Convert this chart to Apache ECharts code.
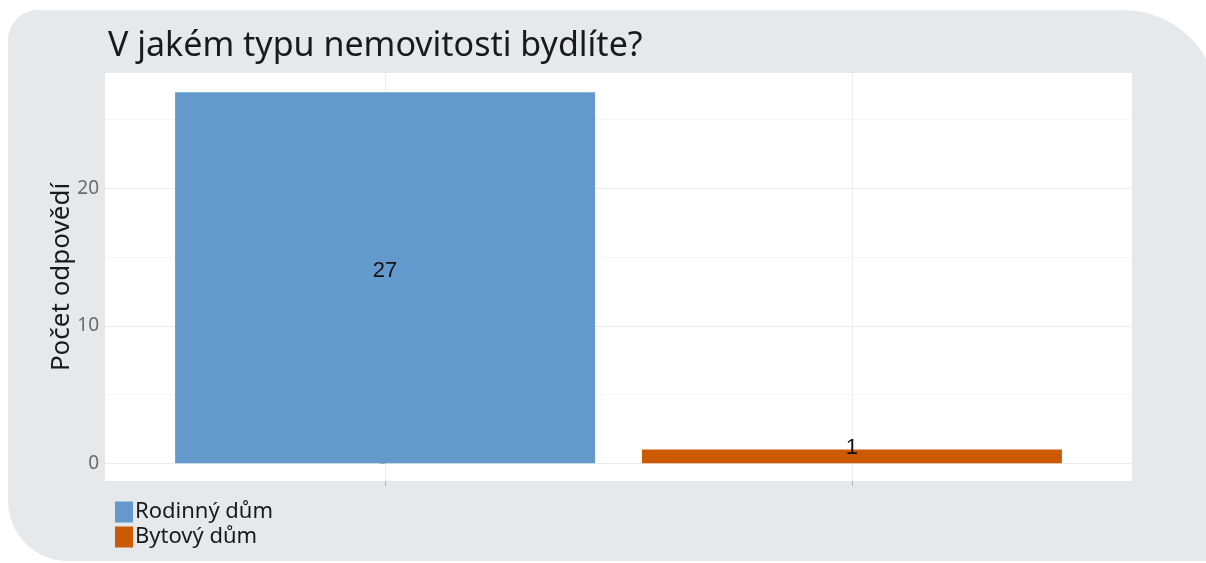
<!DOCTYPE html>
<html>
<head>
<meta charset="utf-8">
<script src="https://cdn.jsdelivr.net/npm/echarts@6/dist/echarts.min.js"></script>
<style>
  html, body { margin: 0; padding: 0; background: #fff; }
  #chart { width: 1206px; height: 563px; }
</style>
</head>
<body>
<div id="chart"></div>
<script>
// data
const categories = ['Rodinný dům', 'Bytový dům']
const counts = [27, 1]
const colors = ['#6399cb', '#cc5a02']
const majorTicks = [0, 10, 20]
const minorTicks = [5, 15, 25]

const chart = echarts.init(document.getElementById('chart'))

const font = '"Noto Sans", sans-serif'

const series = categories.map((name, i) => ({
  name: name,
  type: 'bar',
  barWidth: 420,
  barGap: '-100%',
  itemStyle: { color: colors[i] },
  label: {
    show: true,
    position: 'inside',
    color: '#111',
    fontSize: 22,
    fontFamily: 'Liberation Sans, Arial, sans-serif',
    offset: i === 1 ? [0, -8] : [0, -7]
  },
  data: [[i, counts[i]]]
}))

const option = {
  animation: false,
  graphic: [{
    type: 'rect',
    z: -10,
    shape: { x: 8, y: 10, width: 1210, height: 551, r: [30, 95, 0, 60] },
    style: { fill: '#e5e9ec' }
  }],
  title: {
    text: 'V jakém typu nemovitosti bydlíte?',
    left: 103,
    top: 24,
    textStyle: { fontFamily: font, fontSize: 34, fontWeight: 'normal', color: '#1a1a1a' }
  },
  legend: {
    orient: 'vertical',
    left: 110,
    top: 496,
    icon: 'rect',
    itemWidth: 18,
    itemHeight: 21,
    itemGap: 3,
    textStyle: { fontFamily: font, fontSize: 22, color: '#1a1a1a', padding: [0, 0, 0, -3] }
  },
  grid: {
    left: 105,
    top: 73,
    right: 74,
    bottom: 82,
    show: true,
    backgroundColor: '#fff',
    borderWidth: 0
  },
  xAxis: {
    type: 'value',
    min: -0.6,
    max: 1.6,
    axisLine: { show: false, onZero: false },
    axisLabel: { show: false },
    axisTick: { show: true, customValues: [0, 1], length: 5, lineStyle: { color: '#b0b0b0' } },
    splitLine: { show: true, lineStyle: { color: '#ececec' } }
  },
  yAxis: [{
    type: 'value',
    min: -1.3,
    max: 28.4,
    name: 'Počet odpovědí',
    nameLocation: 'middle',
    nameGap: 30,
    nameMoveOverlap: false,
    nameTextStyle: { fontFamily: font, fontSize: 26, color: '#1a1a1a' },
    axisLine: { show: false },
    axisTick: { show: true, customValues: majorTicks, length: 5, lineStyle: { color: '#b0b0b0' } },
    axisLabel: { customValues: majorTicks, fontFamily: font, fontSize: 19, color: '#6b6b6b', margin: 6 },
    splitLine: { show: true, lineStyle: { color: '#ebebeb' } }
  }, {
    type: 'value',
    min: -1.3,
    max: 28.4,
    position: 'left',
    axisLine: { show: false },
    axisTick: { show: false, customValues: minorTicks },
    axisLabel: { show: false, customValues: minorTicks },
    splitLine: { show: true, lineStyle: { color: '#f5f5f5' } }
  }],
  series: series
}

chart.setOption(option)
</script>
</body>
</html>
